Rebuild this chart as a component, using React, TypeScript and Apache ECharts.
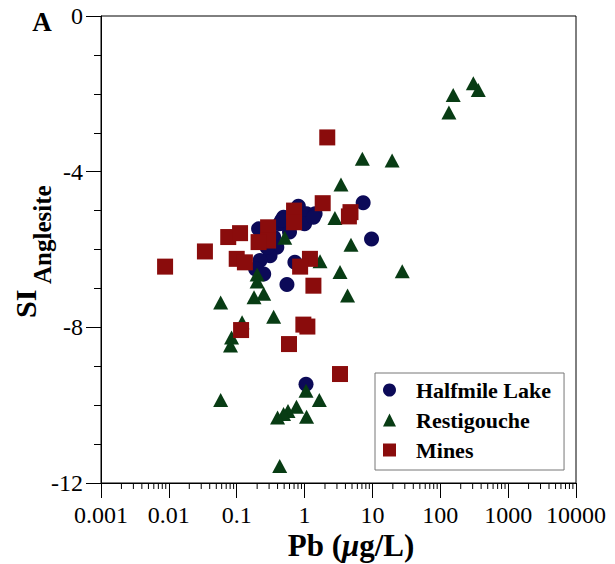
import React, { useEffect, useRef } from "react";
import * as echarts from "echarts";

const xTickLabels = ["0.001", "0.01", "0.1", "1", "10", "100", "1000", "10000"];
const yTickLabels = ["-12", "-8", "-4", "0"];

const halfmileLake: number[][] = [
  [0.81, -4.89], [7.3, -4.8], [9.7, -5.73], [0.49, -5.17], [1.07, -5.08],
  [1.0, -5.34], [0.43, -5.34], [0.21, -5.47], [0.35, -5.68], [0.39, -5.94],
  [0.31, -6.16], [0.22, -6.28], [0.19, -6.5], [0.25, -6.63], [0.72, -6.33],
  [0.55, -6.9], [1.43, -5.08], [0.6, -5.55], [0.28, -5.95], [1.35, -5.17],
  [0.46, -5.25], [1.05, -9.46],
];

const restigouche: number[][] = [
  [307, -1.73], [363, -1.9], [155, -2.03], [134, -2.48], [7.1, -3.67],
  [19.5, -3.71], [3.44, -4.33], [2.8, -5.19], [4.83, -5.88], [1.69, -6.3],
  [3.33, -6.58], [27.5, -6.56], [4.3, -7.18], [0.51, -5.7], [0.2, -6.64],
  [0.2, -6.82], [0.25, -7.14], [0.18, -7.23], [0.058, -7.36], [0.35, -7.73],
  [0.12, -7.87], [0.084, -8.26], [0.081, -8.47], [0.058, -9.87], [1.05, -9.63],
  [1.65, -9.87], [0.76, -10.04], [0.57, -10.15], [0.49, -10.23], [0.4, -10.32],
  [1.07, -10.3], [0.43, -11.56],
];

const mines: number[][] = [
  [0.0088, -6.44], [0.034, -6.05], [0.075, -5.68], [0.112, -5.58], [0.1, -6.24],
  [0.132, -6.33], [0.29, -5.43], [0.29, -5.77], [0.21, -5.81], [0.7, -5.0],
  [0.7, -5.3], [1.85, -4.81], [4.75, -5.04], [4.5, -5.15], [1.2, -6.24],
  [0.86, -6.44], [1.35, -6.93], [0.96, -7.93], [1.1, -7.98], [0.59, -8.43],
  [0.116, -8.07], [3.33, -9.2], [2.16, -3.12],
];

const decadeExponents = [-3, -2, -1, 0, 1, 2, 3];
const minorMultipliers = [2, 3, 4, 5, 6, 7, 8, 9];

const FONT = "Liberation Serif";

export default function App() {
  const ref = useRef<HTMLDivElement>(null);

  useEffect(() => {
    if (!ref.current) return;
    const chart = echarts.init(ref.current, undefined, { renderer: "svg" });

    const minorData: number[][] = [];
    decadeExponents.forEach((e) => {
      minorMultipliers.forEach((m) => {
        minorData.push([Number((m * Math.pow(10, e)).toPrecision(3)), -12]);
      });
    });

    chart.setOption({
      animation: false,
      backgroundColor: "#ffffff",
      grid: {
        left: 101,
        right: 39,
        top: 16,
        bottom: 81,
        show: true,
        borderColor: "#000",
        borderWidth: 1,
        backgroundColor: "transparent",
      },
      xAxis: {
        type: "log",
        logBase: 10,
        min: 0.001,
        max: 10000,
        interval: 1,
        axisLine: { show: true, onZero: false, lineStyle: { color: "#000", width: 1 } },
        axisTick: { show: true, inside: false, length: 15, lineStyle: { color: "#000" } },
        splitLine: { show: false },
        minorTick: { show: false },
        axisLabel: {
          color: "#000",
          fontFamily: FONT,
          fontSize: 24,
          margin: 20,
          formatter: (v: number) => xTickLabels[Math.round(Math.log10(v)) + 3] ?? "",
        },
      },
      yAxis: {
        type: "value",
        min: -12,
        max: 0,
        interval: 4,
        axisLine: { show: true, onZero: false, lineStyle: { color: "#000", width: 1 } },
        axisTick: { show: true, inside: false, length: 15, lineStyle: { color: "#000" } },
        minorTick: { show: true, splitNumber: 4, length: 7, lineStyle: { color: "#000" } },
        splitLine: { show: false },
        axisLabel: {
          color: "#000",
          fontFamily: FONT,
          fontSize: 24,
          margin: 18,
          formatter: (v: number) => yTickLabels[Math.round((v + 12) / 4)] ?? "",
        },
      },
      legend: {
        orient: "vertical",
        left: 375,
        top: 373,
        data: ["Halfmile Lake", "Restigouche", "Mines"],
        itemWidth: 13,
        itemHeight: 13,
        itemGap: 8,
        padding: [6, 13, 9, 8],
        borderColor: "#777",
        borderWidth: 1,
        backgroundColor: "#fff",
        textStyle: {
          color: "#000",
          fontFamily: FONT,
          fontWeight: "bold",
          fontSize: 22,
          lineHeight: 22,
          padding: [0, 0, 0, 15],
        },
      },
      graphic: [
        {
          type: "text",
          x: 42,
          y: 22,
          style: {
            text: "A",
            font: `bold 27px ${FONT}`,
            fill: "#000",
            align: "center",
            verticalAlign: "middle",
          },
        },
        {
          type: "text",
          x: 351,
          y: 545,
          style: {
            text: "{a|Pb (}{b|μ}{a|g/L)}",
            fill: "#000",
            align: "center",
            verticalAlign: "middle",
            rich: {
              a: { fontFamily: FONT, fontWeight: "bold", fontSize: 31, fill: "#000" },
              b: { fontFamily: FONT, fontWeight: "bold", fontStyle: "italic", fontSize: 31, fill: "#000" },
            },
          },
        },
        {
          type: "text",
          x: 25,
          y: 318,
          rotation: Math.PI / 2,
          style: {
            text: "SI",
            font: `bold 30px ${FONT}`,
            fill: "#000",
            align: "left",
            verticalAlign: "middle",
          },
        },
        {
          type: "text",
          x: 42,
          y: 284,
          rotation: Math.PI / 2,
          style: {
            text: "Anglesite",
            font: `bold 25px ${FONT}`,
            fill: "#000",
            align: "left",
            verticalAlign: "middle",
          },
        },
      ],
      series: [
        {
          name: "Halfmile Lake",
          type: "scatter",
          symbol: "circle",
          symbolSize: 15,
          data: halfmileLake,
          itemStyle: { color: "#0c0a58", opacity: 1 },
        },
        {
          name: "Restigouche",
          type: "scatter",
          symbol: "triangle",
          symbolSize: [15, 14],
          data: restigouche,
          itemStyle: { color: "#083c14", opacity: 1 },
        },
        {
          name: "Mines",
          type: "scatter",
          symbol: "rect",
          symbolSize: 16,
          data: mines,
          itemStyle: { color: "#8a0c0c", opacity: 1 },
        },
        {
          type: "custom",
          silent: true,
          clip: false,
          data: minorData,
          renderItem: (params: any, api: any) => {
            const p = api.coord([api.value(0), api.value(1)]);
            return {
              type: "line",
              shape: { x1: p[0], y1: p[1], x2: p[0], y2: p[1] + 6 },
              style: { stroke: "#000", lineWidth: 1 },
            };
          },
        },
      ],
    });

    return () => {
      chart.dispose();
    };
  }, []);

  return (
    <div
      ref={ref}
      style={{ position: "fixed", left: 0, top: 0, width: 615, height: 564, background: "#fff" }}
    />
  );
}
